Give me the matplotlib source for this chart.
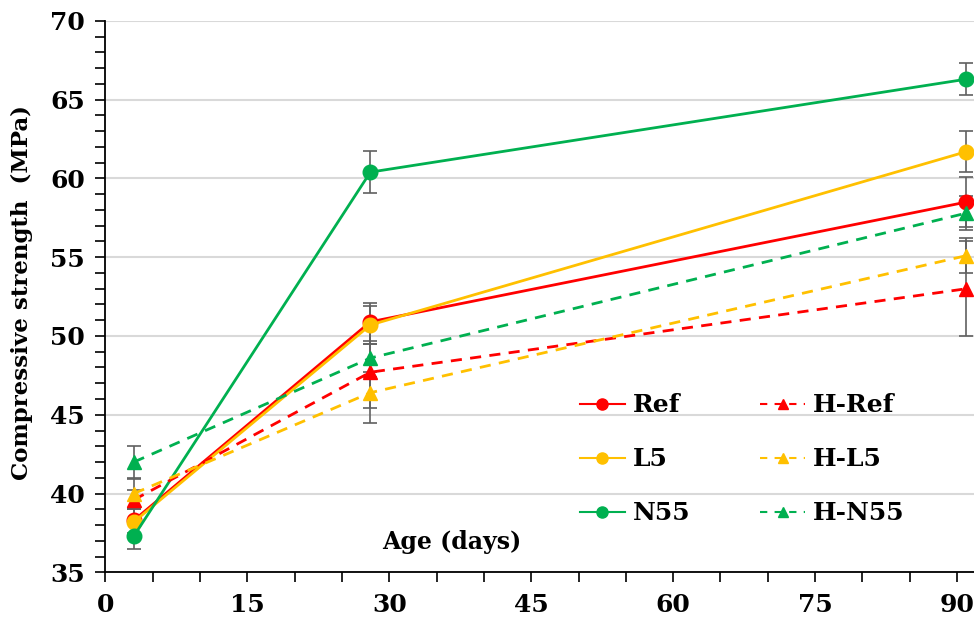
import numpy as np
import matplotlib
matplotlib.use('Agg')
import matplotlib.pyplot as plt
from matplotlib.ticker import MultipleLocator
from matplotlib.lines import Line2D

# Compressive strength vs age
age = [3, 28, 91]

ref = [38.3, 50.9, 58.5]
l5 = [38.2, 50.7, 61.7]
n55 = [37.3, 60.4, 66.3]
h_ref = [39.6, 47.7, 53.0]
h_l5 = [40.0, 46.4, 55.1]
h_n55 = [42.0, 48.6, 57.8]

ref_err = [0.8, 1.2, 1.6]
l5_err = [0.8, 1.2, 1.3]
n55_err = [0.85, 1.35, 1.0]
h_ref_err = [0.6, 3.2, 3.0]
h_l5_err = [0.9, 1.0, 1.1]
h_n55_err = [1.0, 0.9, 1.1]

labels = ['Ref', 'L5', 'N55', 'H-Ref', 'H-L5', 'H-N55']
red = '#FF0000'
yellow = '#FFC000'
green = '#00B050'

plt.rcParams['font.family'] = 'DejaVu Serif'
plt.rcParams['font.weight'] = 'bold'

fig = plt.figure(figsize=(9.74, 6.21), dpi=100)
ax = fig.add_axes([0.1083, 0.0784, 0.8917, 0.888])

series = [
    (ref, ref_err, red, 'o', '-'),
    (l5, l5_err, yellow, 'o', '-'),
    (n55, n55_err, green, 'o', '-'),
    (h_ref, h_ref_err, red, '^', '--'),
    (h_l5, h_l5_err, yellow, '^', '--'),
    (h_n55, h_n55_err, green, '^', '--'),
]

# error bars first (grey), then the lines on top
for vals, err, col, mk, ls in series:
    ax.errorbar(age, vals, yerr=err, fmt='none', ecolor='#606060',
                elinewidth=1.2, capsize=5, capthick=1.2, zorder=2)

for (vals, err, col, mk, ls), lab in zip(series, labels):
    ax.plot(age, vals, color=col, marker=mk, linestyle=ls, lw=2,
            markersize=10.5, dashes=(4, 3) if ls == '--' else (None, None),
            zorder=3, label=lab)

ax.set_xlim(0, 91.8)
ax.set_ylim(35, 70)
ax.xaxis.set_major_locator(MultipleLocator(15))
ax.xaxis.set_minor_locator(MultipleLocator(5))
ax.yaxis.set_major_locator(MultipleLocator(5))
ax.yaxis.set_minor_locator(MultipleLocator(1))
ax.tick_params(which='major', direction='out', length=7, width=1.2, labelsize=18, pad=8)
ax.tick_params(which='minor', direction='out', length=7, width=1.2)
for lab in ax.get_xticklabels() + ax.get_yticklabels():
    lab.set_fontweight('bold')

ax.grid(axis='y', which='major', color='#d9d9d9', lw=1.5, zorder=0)
ax.set_axisbelow(True)
ax.spines['top'].set_visible(False)
ax.spines['right'].set_visible(False)
ax.spines['left'].set_linewidth(1.3)
ax.spines['bottom'].set_linewidth(1.3)

ax.set_ylabel('Compressive strength  (MPa)', fontsize=16.5, fontweight='bold')
ax.yaxis.set_label_coords(-0.083, 0.508)
ax.text(0.399, 0.0555, 'Age (days)', transform=ax.transAxes, ha='center',
        va='center', fontsize=17, fontweight='bold')

leg_handles = []
for vals, err, col, mk, ls in series:
    leg_handles.append(Line2D([], [], color=col, marker=mk, lw=1.5,
                              linestyle=ls, markersize=8 if mk == 'o' else 7,
                              dashes=(3.5, 3.5) if ls == '--' else (None, None)))
ax.legend(leg_handles, labels, ncol=2, loc='center', bbox_to_anchor=(0.733, 0.205),
          frameon=False, labelspacing=1.2, columnspacing=2.8,
          handlelength=1.8, handletextpad=0.3, prop={'weight': 'bold', 'size': 18})

fig.savefig('out.png', dpi=100)
